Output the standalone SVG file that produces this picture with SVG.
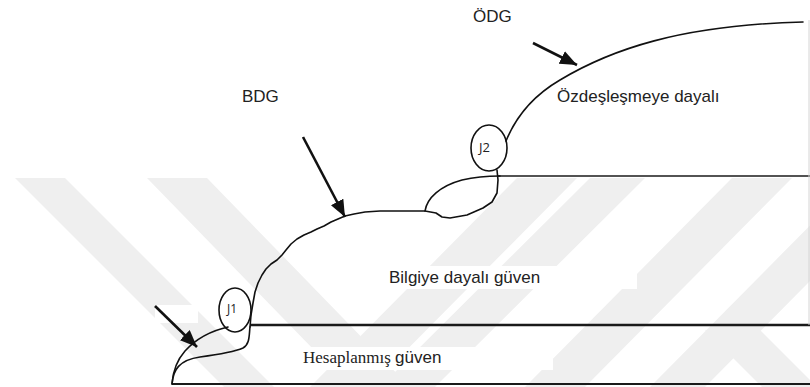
<svg xmlns="http://www.w3.org/2000/svg" width="810" height="387" viewBox="0 0 810 387">
  <style>
    .band { fill: #efefef; }
    .mask { fill: #ffffff; }
    .curve { fill: none; stroke: #111; stroke-width: 1.6; stroke-linejoin: round; stroke-linecap: round; }
    .level { fill: none; stroke: #1a1a1a; }
    .pointer { fill: none; stroke: #111; stroke-width: 2.6; marker-end: url(#head); }
    .sans { font-family: "Liberation Sans", Arial, sans-serif; font-size: 17px; fill: #222; }
    .serif { font-family: "Liberation Serif", "Times New Roman", serif; font-size: 17px; fill: #222; }
    .tag { font-family: "Open Sans", "Liberation Sans", sans-serif; fill: #222; }
    .ring { fill: none; stroke: #111; stroke-width: 1.6; }
  </style>
  <defs>
    <marker id="head" markerUnits="userSpaceOnUse" markerWidth="18" markerHeight="14" refX="17" refY="7" orient="auto">
      <path d="M0,0 L17,7 L0,14 Z" fill="#111"/>
    </marker>
  </defs>

  <rect width="810" height="387" fill="#ffffff"/>

  <!-- faint background bands -->
  <g id="watermark">
    <polygon class="band" points="15,178 65,178 274,387 224,387"/>
    <polygon class="band" points="147,178 207,178 410,387 350,387"/>
    <polygon class="band" points="310,387 370,387 577,178 517,178"/>
    <polygon class="band" points="380,387 435,387 645,178 590,178"/>
    <polygon class="band" points="525,387 585,387 792,178 732,178"/>
    <polygon class="band" points="650,387 705,387 912,178 857,178"/>
    <polygon class="band" points="705,330 760,330 817,387 762,387"/>
  </g>

  <!-- label backgrounds -->
  <g id="label-backgrounds">
    <rect class="mask" x="386" y="266" width="251" height="23"/>
    <rect class="mask" x="301" y="347" width="252" height="23"/>
    <rect class="mask" x="155" y="305" width="43" height="18"/>
  </g>

  <g id="connectors">
    <!-- level lines -->
    <line class="level" x1="172" y1="384" x2="810" y2="384" stroke-width="2"/>
    <line class="level" x1="250" y1="325" x2="810" y2="325" stroke-width="2.7"/>
    <line class="level" x1="497" y1="176" x2="810" y2="176" stroke-width="1.7"/>
    <line x1="809" y1="20" x2="809" y2="325" stroke="#d4d4d4" stroke-width="1"/>

    <!-- calculated trust stage -->
    <path class="curve" d="M172,384 C173,370 177,360 185,351 C195,340 210,331 228,327"/>
    <path class="curve" d="M172,384 C173,370 179,360 200,357 C215,355 234,352 243,348 C250,344 249,335 250,327"/>

    <!-- knowledge based stage -->
    <path class="curve" d="M250,327 L251,315 L253,303 L255,292 L258,283 L262,275 L266,269 L271,264 L277,260 L282,255 L286,250 L291,244 L297,239 L304,235 L311,232 L317,229 L324,226 L331,222 L338,219 L345,216 L354,214 L365,212 L380,211 L400,211 L425,211 L436,213 L442,217 L450,218 L467,215 L483,208 L492,202 L497,193 L498,180 L497,170"/>
    <path class="curve" d="M425,211 C427,198 440,186 462,180 C475,177 488,176 500,176"/>

    <!-- identification based stage -->
    <path class="curve" d="M506,141 C517,114 536,94 560,80 C610,50 680,25 803,22"/>

    <!-- pointers -->
    <line class="pointer" x1="533" y1="43" x2="577" y2="65"/>
    <line class="pointer" x1="303" y1="137" x2="345" y2="217"/>
    <line class="pointer" x1="155" y1="306" x2="197" y2="347"/>
  </g>

  <g id="J1">
    <ellipse class="ring" cx="235" cy="310" rx="16" ry="22"/>
    <text class="tag" x="227" y="313" font-size="12">J1</text>
  </g>

  <g id="J2">
    <ellipse class="ring" cx="489" cy="148" rx="18" ry="23"/>
    <text class="tag" x="479" y="152" font-size="13">J2</text>
  </g>

  <g id="labels">
    <text class="sans" x="473" y="22">ÖDG</text>
    <text class="sans" x="557" y="102">Özdeşleşmeye dayalı</text>
    <text class="sans" x="242" y="102">BDG</text>
    <text class="sans" x="389" y="283">Bilgiye dayalı güven</text>
    <text x="303" y="363"><tspan class="serif">Hesaplanmış </tspan><tspan class="sans">güven</tspan></text>
  </g>
</svg>
